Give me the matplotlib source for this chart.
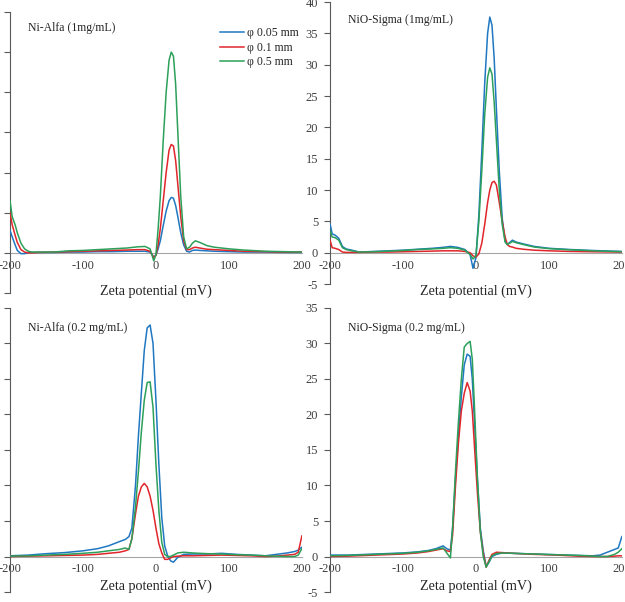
import numpy as np
import matplotlib
matplotlib.use("Agg")
import matplotlib.pyplot as plt

plt.rcParams['font.family'] = ['Liberation Serif', 'DejaVu Serif']
plt.rcParams['axes.unicode_minus'] = False

# colours for the three particle sizes
c_blue = '#1f78c1'
c_red = '#e0262b'
c_green = '#2ca05a'
labels = ['\u03c6 0.05 mm', '\u03c6 0.1 mm', '\u03c6 0.5 mm']

# Ni-Alfa (1mg/mL)
x_tl = [-200, -197, -193, -190, -185, -180, -175, -170, -160, -140, -120, -100, -80, -60, -40, -25, -15, -8, -3, 0,
        3, 6, 10, 14, 18, 21, 24, 27, 30, 34, 38, 42, 46, 50, 54, 60, 70, 80, 100, 120, 150, 175, 200]
blue_tl = [2.8, 2.0, 1.0, 0.3, -0.1, -0.1, 0, 0.05, 0.05, 0.05, 0.1, 0.1, 0.15, 0.15, 0.2, 0.2, 0.2, 0.1, -0.5, -0.3,
           0.5, 1.5, 3.4, 5.2, 6.5, 6.9, 6.8, 5.9, 4.5, 2.5, 1.0, 0.2, 0.1, 0.3, 0.35, 0.3, 0.25, 0.2, 0.15, 0.1, 0.1, 0.05, 0.05]
red_tl = [5.0, 3.5, 2.2, 1.3, 0.4, 0.1, 0, 0, 0.05, 0.1, 0.15, 0.2, 0.25, 0.3, 0.35, 0.4, 0.4, 0.2, -0.6, -0.3,
          1.0, 3.0, 6.5, 10.0, 12.8, 13.5, 13.3, 11.5, 8.5, 4.5, 1.5, 0.4, 0.4, 0.6, 0.7, 0.6, 0.45, 0.4, 0.3, 0.2, 0.15, 0.1, 0.1]
green_tl = [6.5, 4.5, 3.5, 2.5, 1.2, 0.5, 0.2, 0.1, 0.1, 0.1, 0.25, 0.3, 0.4, 0.5, 0.6, 0.75, 0.8, 0.5, -1.0, -0.2,
            3.0, 7.0, 14.0, 20.0, 24.0, 25.0, 24.5, 21.0, 15.0, 7.0, 2.0, 0.5, 0.7, 1.2, 1.5, 1.3, 0.9, 0.7, 0.5, 0.35, 0.2, 0.15, 0.1]

# NiO-Sigma (1mg/mL)
x_tr = [-200, -197, -193, -188, -183, -178, -170, -160, -140, -120, -100, -80, -60, -45, -35, -25, -15, -8, -4, 0,
        4, 8, 12, 16, 19, 22, 25, 28, 32, 36, 40, 43, 46, 50, 55, 65, 80, 100, 130, 160, 200]
blue_tr = [4.6, 3.0, 2.8, 2.3, 1.0, 0.6, 0.4, 0.1, 0.2, 0.3, 0.4, 0.55, 0.7, 0.85, 1.0, 0.85, 0.5, -0.3, -2.5, -0.8,
           6.0, 16.0, 27.0, 35.0, 37.6, 36.3, 31.0, 23.0, 13.0, 5.5, 1.8, 1.3, 1.6, 2.0, 1.7, 1.4, 1.0, 0.7, 0.5, 0.35, 0.2]
red_tr = [2.0, 0.8, 0.7, 0.5, 0.1, 0.05, 0.05, 0.05, 0.1, 0.1, 0.15, 0.2, 0.25, 0.3, 0.3, 0.3, 0.2, 0, -0.5, -0.7,
          -0.2, 1.5, 4.5, 8.0, 10.0, 11.2, 11.4, 10.8, 8.0, 5.0, 2.5, 1.3, 1.0, 0.9, 0.7, 0.55, 0.4, 0.3, 0.2, 0.15, 0.1]
green_tr = [3.5, 2.5, 2.4, 2.0, 0.8, 0.5, 0.3, 0.1, 0.15, 0.25, 0.35, 0.5, 0.6, 0.7, 0.8, 0.7, 0.4, -0.3, -1.0, -0.5,
            5.0, 13.0, 22.0, 28.0, 29.5, 28.5, 24.0, 18.0, 10.0, 4.5, 1.7, 1.3, 1.5, 1.8, 1.6, 1.3, 0.9, 0.65, 0.45, 0.3, 0.15]

# Ni-Alfa (0.2 mg/mL)
x_bl = [-200, -175, -150, -125, -100, -80, -65, -50, -42, -37, -33, -28, -24, -20, -16, -12, -8, -4, 0,
        4, 8, 12, 16, 20, 24, 30, 38, 50, 70, 90, 110, 130, 150, 165, 180, 190, 195, 200]
blue_bl = [0.1, 0.2, 0.4, 0.55, 0.8, 1.1, 1.5, 2.1, 2.4, 2.8, 4.0, 10.0, 17.0, 23.0, 29.0, 32.2, 32.6, 30.0, 22.0,
           13.0, 5.5, 1.5, 0.1, -0.6, -0.8, -0.1, 0.3, 0.35, 0.35, 0.45, 0.3, 0.2, 0.1, 0.3, 0.5, 0.7, 0.9, 1.3]
red_bl = [0, 0.05, 0.1, 0.15, 0.2, 0.3, 0.45, 0.6, 0.8, 1.0, 2.5, 6.0, 8.5, 9.8, 10.3, 9.8, 8.5, 6.5, 4.0,
          1.8, 0.5, -0.4, -0.4, -0.2, 0, 0.05, 0.1, 0.1, 0.15, 0.2, 0.15, 0.1, 0, 0.05, 0.2, 0.3, 0.6, 2.9]
green_bl = [0.05, 0.1, 0.2, 0.3, 0.45, 0.6, 0.8, 1.0, 1.2, 1.0, 2.5, 7.0, 12.0, 17.5, 22.0, 24.5, 24.6, 21.0, 13.0,
            6.5, 2.0, 0.3, 0, 0, 0.2, 0.5, 0.6, 0.5, 0.4, 0.35, 0.25, 0.2, 0.1, 0.05, 0, 0, 0.2, 1.1]

# NiO-Sigma (0.2 mg/mL)
x_br = [-200, -175, -150, -125, -100, -80, -65, -55, -45, -40, -35, -32, -28, -24, -20, -16, -12, -8, -5, -2,
        2, 6, 10, 14, 18, 22, 28, 36, 50, 80, 110, 140, 160, 170, 180, 190, 195, 200]
blue_br = [0.2, 0.2, 0.3, 0.4, 0.5, 0.65, 0.85, 1.1, 1.5, 1.1, 0.9, 4.0, 11.0, 17.0, 22.5, 27.0, 28.5, 28.2, 25.0, 19.0,
           11.0, 4.0, 0.8, -1.4, -0.8, 0, 0.3, 0.5, 0.45, 0.35, 0.25, 0.15, 0.1, 0.2, 0.6, 1.0, 1.2, 2.8]
red_br = [0, 0.05, 0.15, 0.25, 0.35, 0.5, 0.7, 0.9, 1.1, 0.8, 0.7, 3.0, 10.0, 16.0, 20.5, 23.0, 24.5, 23.3, 20.5, 15.5,
          9.0, 3.5, 0.5, -1.5, -0.5, 0.3, 0.6, 0.55, 0.45, 0.3, 0.2, 0.05, 0, 0, 0, 0.05, 0.1, 0.1]
green_br = [0.1, 0.15, 0.25, 0.35, 0.45, 0.6, 0.8, 1.0, 1.2, 0.5, -0.2, 4.0, 12.0, 19.0, 25.0, 29.5, 30.0, 30.3, 27.8, 21.0,
            11.0, 3.5, 0, -1.5, -0.7, 0.1, 0.4, 0.5, 0.45, 0.35, 0.25, 0.15, 0.05, 0, 0, 0.3, 0.6, 1.1]

panels = [
    # x, series, title, ylim, axes rect, title y, xlabel pad, show y labels
    (x_tl, [blue_tl, red_tl, green_tl], 'Ni-Alfa (1mg/mL)', (-5, 30), [0.016, 0.5133, 0.467, 0.4668], 0.943, 9, False),
    (x_tr, [blue_tr, red_tr, green_tr], 'NiO-Sigma (1mg/mL)', (-5, 40), [0.528, 0.5282, 0.467, 0.4684], 0.936, 9, True),
    (x_bl, [blue_bl, red_bl, green_bl], 'Ni-Alfa (0.2 mg/mL)', (-5, 35), [0.016, 0.0166, 0.467, 0.4718], 0.93, 3, False),
    (x_br, [blue_br, red_br, green_br], 'NiO-Sigma (0.2 mg/mL)', (-5, 35), [0.528, 0.0166, 0.467, 0.4718], 0.93, 3, True),
]

fig = plt.figure(figsize=(6.25, 6.02), dpi=100)

axes = []
for x, series, title, ylim, rect, ty, lpad, ylab in panels:
    ax = fig.add_axes(rect)
    ax.patch.set_alpha(0)
    for y, col, lab in zip(series, [c_blue, c_red, c_green], labels):
        ax.plot(x, y, color=col, lw=1.1, label=lab, zorder=3)
    ax.set_xlim(-200, 200)
    ax.set_ylim(*ylim)
    ax.set_xticks([-200, -100, 0, 100, 200])
    ax.set_yticks(np.arange(ylim[0], ylim[1] + 1, 5))
    ax.spines['top'].set_visible(False)
    ax.spines['right'].set_visible(False)
    ax.spines['bottom'].set_position(('data', 0))
    ax.spines['bottom'].set_color('#a6a6a6')
    ax.spines['bottom'].set_zorder(2)
    ax.spines['left'].set_color('#595959')
    ax.tick_params(axis='x', length=0, pad=5, labelsize=9, colors='#404040')
    ax.tick_params(axis='y', length=4, width=0.8, direction='out', pad=4.5, labelsize=9,
                   colors='#595959', labelcolor='#404040', labelleft=ylab)
    ax.set_xlabel('Zeta potential (mV)', fontsize=10.2, color='#262626', labelpad=lpad)
    ax.text(0.062, ty, title, transform=ax.transAxes, fontsize=8.5, color='#262626', va='center')
    axes.append(ax)

leg = axes[0].legend(loc='upper left', bbox_to_anchor=(0.72, 0.945), frameon=False, fontsize=8.5,
                     handlelength=2.0, handletextpad=0.3, labelspacing=0.2, borderpad=0, borderaxespad=0)
for t in leg.get_texts():
    t.set_color('#262626')

fig.savefig('out.png', dpi=100)
